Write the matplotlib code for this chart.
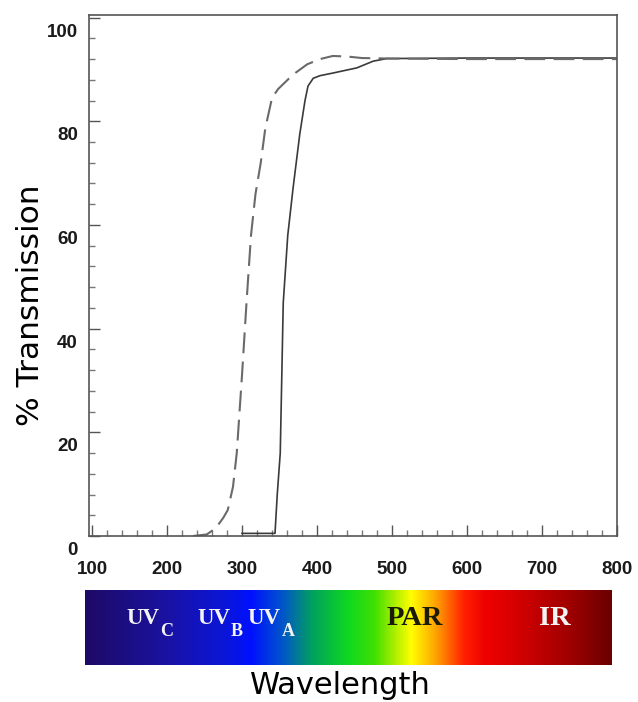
import matplotlib
matplotlib.use("Agg")
import matplotlib.pyplot as plt
import numpy as np
from matplotlib.colors import LinearSegmentedColormap
from matplotlib.ticker import MultipleLocator
import matplotlib.transforms as mtransforms

# Data
solid_wl = [300, 344, 347, 351, 355, 361, 368, 377, 384, 388, 395, 404, 421, 453, 475, 493, 600, 700, 800]
solid_T = [0.5, 0.5, 8, 16, 45, 58, 67, 77.5, 84, 86.8, 88.3, 88.8, 89.3, 90.3, 91.6, 92.1, 92.2, 92.2, 92.2]

dashed_wl = [235, 253, 265, 275, 281, 288, 293, 300, 306, 312, 318, 325, 331, 340, 348, 368, 387, 404, 421, 440, 460, 500, 600, 700, 800]
dashed_T = [0, 0.3, 1.5, 3.5, 5, 9.5, 16, 31, 45, 58, 66, 72, 78.6, 84.5, 86.2, 89, 91, 92, 92.6, 92.5, 92.2, 92.1, 92, 92, 92]

x_ticks = [100, 200, 300, 400, 500, 600, 700, 800]
y_ticks = [0, 20, 40, 60, 80, 100]

band_main = ["UV", "UV", "UV", "PAR", "IR"]
band_sub = ["C", "B", "A", "", ""]
band_main_x = [0.11, 0.245, 0.34, 0.626, 0.892]
band_sub_x = [0.154, 0.288, 0.386, 0, 0]
band_sizes = [16.5, 16.5, 16.5, 20.5, 20.5]
band_colors = ["#f4f4f4", "#f4f4f4", "#f4f4f4", "#1a1a05", "#f4f4f4"]

spec_colors = ["#1e0a66", "#1a12a0", "#0a16dc", "#0010ff", "#0050d0", "#00a060",
               "#10d820", "#40e000", "#b0f000", "#ffff00", "#ff9a00", "#ff2000",
               "#f00000", "#d00000", "#a00000", "#6a0000"]
spec_stops = [0.0, 0.15, 0.27, 0.315, 0.37, 0.43, 0.5, 0.55, 0.59, 0.62, 0.67, 0.72,
              0.76, 0.83, 0.92, 1.0]

fig = plt.figure(figsize=(6.38, 7.02), dpi=100)
ax = fig.add_axes([0.1395, 0.2365, 0.8276, 0.7421])

ax.plot(solid_wl, solid_T, color="#3a3a3a", lw=1.2)
ax.plot(dashed_wl, dashed_T, color="#6a6a6a", lw=1.5, dashes=(10, 4))

ax.set_xlim(96, 800)
ax.set_ylim(0, 100.5)
ax.set_xticks(x_ticks)
ax.set_yticks(y_ticks)
ax.xaxis.set_minor_locator(MultipleLocator(20))
ax.yaxis.set_minor_locator(MultipleLocator(4))
ax.tick_params(which='major', direction='in', length=8, width=1, color="#555555",
               top=False, right=False, labelsize=13.5)
ax.tick_params(axis='x', which='major', pad=18)
ax.tick_params(axis='y', which='major', pad=8)
ax.tick_params(which='minor', direction='in', length=4, width=1, color="#777777",
               top=False, right=False)
for lab in ax.get_xticklabels() + ax.get_yticklabels():
    lab.set_fontfamily('Liberation Sans')
    lab.set_fontweight('bold')
    lab.set_color('#1a1a1a')
for s in ax.spines.values():
    s.set_color("#555555")
    s.set_linewidth(1.2)

# slight vertical offset of y labels, like the scanned original
dy = mtransforms.ScaledTranslation(0, -9/72, fig.dpi_scale_trans)
for lab in ax.get_yticklabels():
    lab.set_transform(lab.get_transform() + dy)

ax.set_ylabel("% Transmission", fontsize=22.5, va='center')
ax.yaxis.set_label_coords(-0.11, 0.443)

# spectrum bar
bax = fig.add_axes([0.1332, 0.0527, 0.826, 0.1068])
cmap = LinearSegmentedColormap.from_list("spec", list(zip(spec_stops, spec_colors)))
grad = np.linspace(0, 1, 512).reshape(1, -1)
bax.imshow(grad, aspect='auto', cmap=cmap, extent=[0, 1, 0, 1])
bax.set_xlim(0, 1)
bax.set_ylim(0, 1)
bax.set_xticks([])
bax.set_yticks([])
for s in bax.spines.values():
    s.set_visible(False)
for m, sub, xm, xs, sz, c in zip(band_main, band_sub, band_main_x, band_sub_x,
                                 band_sizes, band_colors):
    bax.text(xm, 0.62, m, color=c, fontsize=sz, fontfamily='Liberation Serif',
             fontweight='bold', ha='center', va='center')
    if sub:
        bax.text(xs, 0.45, sub, color=c, fontsize=13, fontfamily='Liberation Serif',
                 fontweight='bold', ha='center', va='center')

fig.text(0.533, 0.024, "Wavelength", fontsize=22, ha='center', va='center')

fig.savefig("out.png", dpi=100)
